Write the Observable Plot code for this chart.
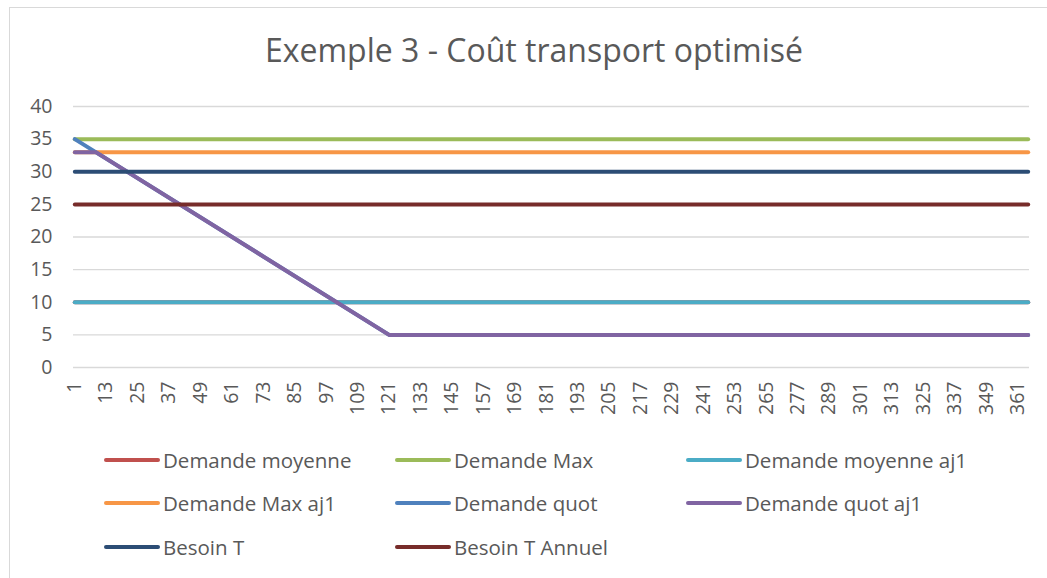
<!DOCTYPE html>
<html>
<head>
<meta charset="utf-8">
<script src="https://cdn.jsdelivr.net/npm/d3@7"></script>
<script src="https://cdn.jsdelivr.net/npm/@observablehq/plot@0.6"></script>
<style>
  html, body { margin: 0; padding: 0; background: #fff; width: 1047px; height: 578px; overflow: hidden; }
  #frame { position: absolute; left: 9px; top: 7px; width: 1100px; height: 600px;
           border-left: 1px solid #d9d9d9; border-top: 1px solid #d9d9d9; }
  #title { position: absolute; left: 0; width: 1068px; top: 28px; text-align: center;
           font-family: "Open Sans", sans-serif; font-size: 32px; color: #595959; line-height: 44px; }
  #chart { position: absolute; left: 0; top: 0; }
  .leg { position: absolute; display: flex; align-items: center; height: 30px;
         font-family: "Open Sans", sans-serif; font-size: 20.5px; color: #595959; white-space: nowrap; }
  .sw { display: inline-block; width: 56px; height: 4.5px; border-radius: 2.5px; margin-right: 3px; }
</style>
</head>
<body>
<div id="frame"></div>
<div id="chart"></div>
<div id="title">Exemple 3 - Coût transport optimisé</div>
<div id="legend"></div>
<script>
// Series names and colours (Excel order)
const seriesNames = ["Demande moyenne", "Demande Max", "Demande moyenne aj1", "Demande Max aj1",
                     "Demande quot", "Demande quot aj1", "Besoin T", "Besoin T Annuel"];
const seriesColors = ["#C0504D", "#9BBB59", "#4BACC6", "#F79646",
                      "#4F81BD", "#8064A2", "#2C4D75", "#772C2A"];

// Breakpoints (day, value); lines are straight between them
const demandeMoyenneDays = [1, 365];        const demandeMoyenneValues = [10, 10];
const demandeMaxDays = [1, 365];            const demandeMaxValues = [35, 35];
const demandeMoyenneAj1Days = [1, 365];     const demandeMoyenneAj1Values = [10, 10];
const demandeMaxAj1Days = [1, 365];         const demandeMaxAj1Values = [33, 33];
const demandeQuotDays = [1, 121, 365];      const demandeQuotValues = [35, 5, 5];
const demandeQuotAj1Days = [1, 9, 121, 365]; const demandeQuotAj1Values = [33, 33, 5, 5];
const besoinTDays = [1, 365];               const besoinTValues = [30, 30];
const besoinTAnnuelDays = [1, 365];         const besoinTAnnuelValues = [25, 25];

// Tick labels
const xTicks = [1, 13, 25, 37, 49, 61, 73, 85, 97, 109, 121, 133, 145, 157, 169, 181, 193, 205,
                217, 229, 241, 253, 265, 277, 289, 301, 313, 325, 337, 349, 361];
const yTicks = [0, 5, 10, 15, 20, 25, 30, 35, 40];

const seriesDays = [demandeMoyenneDays, demandeMaxDays, demandeMoyenneAj1Days, demandeMaxAj1Days,
                    demandeQuotDays, demandeQuotAj1Days, besoinTDays, besoinTAnnuelDays];
const seriesValues = [demandeMoyenneValues, demandeMaxValues, demandeMoyenneAj1Values, demandeMaxAj1Values,
                      demandeQuotValues, demandeQuotAj1Values, besoinTValues, besoinTAnnuelValues];

const tables = seriesNames.map((name, i) =>
  seriesDays[i].map((d, j) => ({series: name, day: d, value: seriesValues[i][j]})));

const plot = Plot.plot({
  width: 1047,
  height: 440,
  marginLeft: 73,
  marginRight: 18,
  marginTop: 106,
  marginBottom: 73,
  style: {fontFamily: "Open Sans, sans-serif", fontSize: "19.5px", color: "#595959", background: "transparent"},
  x: {domain: [0.5, 365.5]},
  y: {domain: [0, 40]},
  marks: [
    Plot.ruleY(yTicks, {stroke: "#d9d9d9", strokeWidth: 1.3}),
    Plot.axisX({ticks: xTicks, tickSize: 0, tickPadding: 14, tickRotate: -90, tickFormat: d => String(d), label: null}),
    Plot.axisY({ticks: yTicks, tickSize: 0, tickPadding: 21, label: null}),
    ...tables.map((t, i) => Plot.line(t, {
      x: "day", y: "value", stroke: seriesColors[i], strokeWidth: 4,
      strokeLinecap: "round", strokeLinejoin: "round"
    }))
  ]
});
document.getElementById("chart").appendChild(plot);

// Legend (3 columns × 3 rows, Excel order)
const legCols = [104, 395, 686];
const legRows = [460, 503, 547];
const legend = document.getElementById("legend");
seriesNames.forEach((name, i) => {
  const el = document.createElement("div");
  el.className = "leg";
  el.style.left = legCols[i % 3] + "px";
  el.style.top = (legRows[Math.floor(i / 3)] - 15) + "px";
  el.innerHTML = `<span class="sw" style="background:${seriesColors[i]}"></span>${name}`;
  legend.appendChild(el);
});
</script>
</body>
</html>
